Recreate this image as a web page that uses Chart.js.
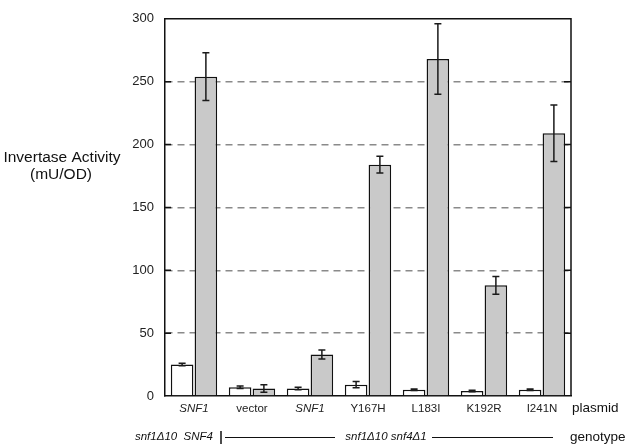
<!DOCTYPE html>
<html>
<head>
<meta charset="utf-8">
<script src="https://cdn.jsdelivr.net/npm/chart.js@4"></script>
<style>
  body { margin: 0; background: #fff; }
  canvas { display: block; }
</style>
</head>
<body>
<canvas id="inv" width="632" height="447"></canvas>
<script>
const FONT = '"Liberation Sans", Arial, Helvetica, sans-serif';

const plasmids = ['SNF1', 'vector', 'SNF1', 'Y167H', 'L183I', 'K192R', 'I241N'];
const italicLabel = [true, false, true, false, false, false, false];
const whiteValues = [25, 7, 6, 9, 5, 4, 5];
const whiteErrors = [1, 1, 1, 2.5, 0.6, 0.6, 0.6];
const grayValues = [254, 6, 33, 184, 268, 88, 209];
const grayErrors = [19, 3, 3.6, 6.6, 28, 7, 22.5];
const yTicks = [0, 50, 100, 150, 200, 250, 300];

const errorBars = {
  id: 'errorBars',
  afterDatasetsDraw(chart) {
    const ctx = chart.ctx;
    const y = chart.scales.y;
    ctx.save();
    ctx.strokeStyle = '#1a1a1a';
    ctx.lineWidth = 1.5;
    chart.data.datasets.forEach((ds, di) => {
      const meta = chart.getDatasetMeta(di);
      meta.data.forEach((bar, i) => {
        const v = ds.data[i], e = ds.errors[i];
        const top = y.getPixelForValue(v + e);
        const bot = y.getPixelForValue(v - e);
        ctx.beginPath();
        ctx.moveTo(bar.x, top); ctx.lineTo(bar.x, bot);
        ctx.moveTo(bar.x - 3.5, top); ctx.lineTo(bar.x + 3.5, top);
        ctx.moveTo(bar.x - 3.5, bot); ctx.lineTo(bar.x + 3.5, bot);
        ctx.stroke();
      });
    });
    ctx.restore();
  }
};

const frame = {
  id: 'frame',
  afterDraw(chart) {
    const ctx = chart.ctx;
    const a = chart.chartArea;
    const y = chart.scales.y;
    ctx.save();
    ctx.strokeStyle = '#111';
    ctx.lineWidth = 1.5;
    ctx.beginPath();
    ctx.moveTo(a.left, a.top); ctx.lineTo(a.right, a.top); ctx.lineTo(a.right, a.bottom);
    yTicks.slice(1, -1).forEach(t => {
      const py = y.getPixelForValue(t);
      ctx.moveTo(a.left, py); ctx.lineTo(a.left + 6, py);
      ctx.moveTo(a.right - 7, py); ctx.lineTo(a.right, py);
    });
    ctx.stroke();

    // axis title
    ctx.fillStyle = '#111';
    ctx.textAlign = 'center';
    ctx.textBaseline = 'middle';
    ctx.font = '15.5px ' + FONT;
    ctx.fillText('Invertase Activity', 62, 158);
    ctx.fillText('(mU/OD)', 61, 175);

    // row labels
    ctx.textAlign = 'left';
    ctx.font = '13.5px ' + FONT;
    ctx.fillText('plasmid', 572, 408);
    ctx.fillText('genotype', 570, 437);

    ctx.font = 'italic 11.5px ' + FONT;
    ctx.textAlign = 'right';
    ctx.fillText('snf1\u039410  SNF4', 213, 437);
    ctx.textAlign = 'center';
    ctx.fillText('snf1\u039410 snf4\u03941', 386, 437);

    ctx.lineWidth = 1.5;
    ctx.beginPath();
    ctx.moveTo(221, 431); ctx.lineTo(221, 444);
    ctx.stroke();
    ctx.lineWidth = 1;
    ctx.beginPath();
    ctx.moveTo(225, 437.5); ctx.lineTo(335, 437.5);
    ctx.moveTo(432, 437.5); ctx.lineTo(553, 437.5);
    ctx.stroke();
    ctx.restore();
  }
};

new Chart(document.getElementById('inv').getContext('2d'), {
  type: 'bar',
  data: {
    labels: plasmids,
    datasets: [
      {
        label: 'SNF4',
        data: whiteValues,
        errors: whiteErrors,
        backgroundColor: '#ffffff',
        borderColor: '#111',
        borderWidth: 1.5,
        barPercentage: 0.95,
        categoryPercentage: 0.82
      },
      {
        label: 'snf4',
        data: grayValues,
        errors: grayErrors,
        backgroundColor: '#c9c9c9',
        borderColor: '#111',
        borderWidth: 1.5,
        barPercentage: 0.95,
        categoryPercentage: 0.82
      }
    ]
  },
  options: {
    responsive: false,
    animation: false,
    devicePixelRatio: 1,
    layout: { padding: { top: 8, right: 61, left: 0, bottom: 0 } },
    plugins: { legend: { display: false }, tooltip: { enabled: false } },
    scales: {
      x: {
        grid: { display: false, drawTicks: false },
        border: { color: '#111', width: 1.5 },
        ticks: {
          color: '#222',
          padding: 6,
          maxRotation: 0,
          autoSkip: false,
          font: ctx => ({
            family: FONT,
            size: 11.5,
            style: italicLabel[ctx.index] ? 'italic' : 'normal'
          })
        },
        afterFit(scale) { scale.height = 51; }
      },
      y: {
        min: 0,
        max: 300,
        afterBuildTicks(scale) { scale.ticks = yTicks.map(v => ({ value: v })); },
        grid: {
          drawTicks: false,
          lineWidth: 1.5,
          color: ctx => (ctx.tick && (ctx.tick.value === 0 || ctx.tick.value === 300)) ? 'rgba(0,0,0,0)' : '#8a8a8a'
        },
        border: { color: '#111', width: 1.5, dash: [7, 5] },
        ticks: { color: '#222', padding: 11, font: { family: FONT, size: 13 } },
        afterFit(scale) { scale.width = 165; }
      }
    }
  },
  plugins: [errorBars, frame]
});
</script>
</body>
</html>
